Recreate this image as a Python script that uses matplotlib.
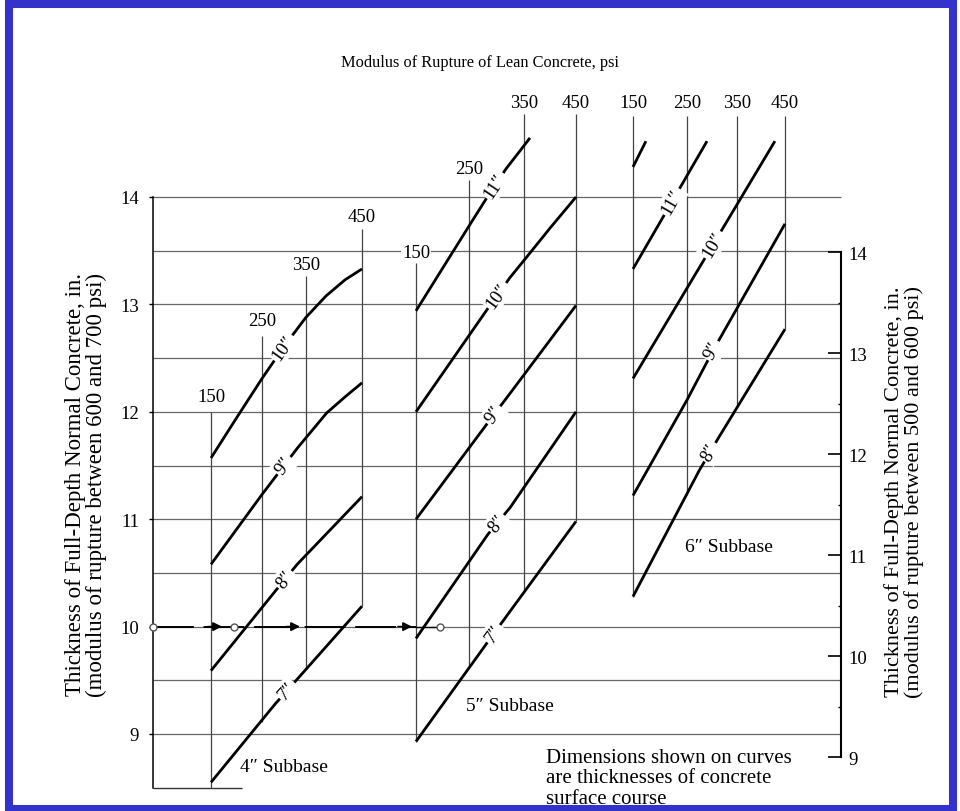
import numpy as np
import matplotlib
matplotlib.use('Agg')
import matplotlib.pyplot as plt
from matplotlib.patches import Rectangle

plt.rcParams['font.family'] = ['Liberation Serif', 'DejaVu Serif']

W, H = 960, 812

# ---------------- data ----------------
psi_values = [150, 250, 350, 450]
left_ticks = [9, 10, 11, 12, 13, 14]
right_ticks = [9, 10, 11, 12, 13, 14]
right_minor = [9.5, 10.5, 11.5, 12.5, 13.5]
grid_levels = [9.0, 9.5, 10.0, 10.5, 11.0, 11.5, 12.0, 12.5, 13.0, 13.5, 14.0]

# curves: surface thickness -> (lean concrete psi, full-depth thickness in.)
sub4_curves = {
    '10': ([150, 201, 250, 302, 350, 386, 420, 450],
           [11.57, 11.95, 12.31, 12.62, 12.88, 13.08, 13.23, 13.33]),
    '9':  ([150, 250, 330, 387, 420, 450], [10.58, 11.23, 11.66, 11.99, 12.14, 12.27]),
    '8':  ([150, 284, 330, 450], [9.59, 10.35, 10.58, 11.21]),
    '7':  ([150, 280, 330, 450], [8.55, 9.28, 9.51, 10.19]),
}
sub4_label_psi = {'10': 298, '9': 300, '8': 302, '7': 307}

sub5_curves = {
    '11': ([150, 250, 284.5, 317, 361.5], [12.94, 13.73, 14.01, 14.26, 14.55]),
    '10': ([150, 250, 288, 324.5, 350, 400, 450], [12.0, 12.71, 12.99, 13.25, 13.41, 13.71, 14.0]),
    '9':  ([150, 284.5, 320, 450], [11.0, 11.9, 12.14, 12.99]),
    '8':  ([150, 284.5, 325, 450], [9.89, 10.86, 11.11, 12.0]),
    '7':  ([150, 284.5, 320, 450], [8.93, 9.86, 10.11, 10.98]),
}
sub5_label_psi = {'11': 297, '10': 301, '9': 295, '8': 301, '7': 295}

sub6_curves = {
    '12': ([150, 174], [14.28, 14.52]),
    '11': ([150, 290], [13.33, 14.52]),
    '10': ([150, 429], [12.31, 14.52]),
    '9':  ([150, 250, 302, 450], [11.22, 12.11, 12.57, 13.75]),
    '8':  ([150, 274, 312, 450], [10.28, 11.45, 11.75, 12.77]),
}
sub6_label_psi = {'11': 222, '10': 302, '9': 302, '8': 296}

example_level = 10.0

# ---------------- layout ----------------
def py2in(py):
    return 14 - (py - 198) / 107.4

groups = [
    dict(xpos=[211, 262, 306, 362], curves=sub4_curves, lab=sub4_label_psi,
         top=[py2in(413), py2in(337), py2in(277), py2in(230)],
         laby=[py2in(398), py2in(322), py2in(265), py2in(218)], base=8.5,
         name='4\u2033 Subbase', name_xy=(284, 768)),
    dict(xpos=[416, 469, 524, 576], curves=sub5_curves, lab=sub5_label_psi,
         top=[py2in(264), py2in(181), py2in(115), py2in(115)],
         laby=[py2in(253), py2in(170), py2in(103), py2in(103)], base=None,
         name='5\u2033 Subbase', name_xy=(510, 707)),
    dict(xpos=[633, 687, 737, 785], curves=sub6_curves, lab=sub6_label_psi,
         top=[py2in(117)] * 4,
         laby=[py2in(103)] * 4, base=None,
         name='6\u2033 Subbase', name_xy=(729, 547)),
]

fig = plt.figure(figsize=(W / 100, H / 100), dpi=100)
ax = fig.add_axes([0, 0, 1, 1])
ax.set_xlim(0, W)
ax.set_ylim(py2in(H), py2in(0))
for s in ['top', 'right', 'bottom']:
    ax.spines[s].set_visible(False)
ax.spines['left'].set_position(('data', 153))
ax.spines['left'].set_bounds(8.5, 14)
ax.spines['left'].set_linewidth(1.1)
ax.set_xticks([])
ax.set_yticks(left_ticks)
ax.set_yticklabels([str(t) for t in left_ticks])
ax.tick_params(axis='y', direction='out', length=3, width=1, pad=7, labelsize=13.5)

ax2 = ax.twinx()
ax2.set_ylim(14 - (H - 253) / 101.0, 14 + 253 / 101.0)
for s in ['top', 'left', 'bottom']:
    ax2.spines[s].set_visible(False)
ax2.spines['right'].set_position(('data', 841))
ax2.spines['right'].set_bounds(9, 14)
ax2.spines['right'].set_linewidth(1.5)
ax2.set_yticks(right_ticks)
ax2.set_yticklabels([str(t) for t in right_ticks])
ax2.set_yticks(right_minor, minor=True)
ax2.tick_params(axis='y', which='major', direction='in', length=9.5, width=1.2, pad=5, labelsize=13.5)
ax2.tick_params(axis='y', which='minor', direction='in', length=2.5, width=1.0)

# horizontal grid
ax.hlines(grid_levels, 153, 841, color='#666666', lw=0.9, zorder=1)
ax.hlines(8.5, 153, 242, color='#333333', lw=1.0, zorder=1)

lab_box = dict(boxstyle='square,pad=0.12', fc='white', ec='none')

for g in groups:
    gx = g['xpos']
    # vertical psi lines
    for i, p in enumerate(psi_values):
        vals = []
        for cps, cv in g['curves'].values():
            if cps[0] <= p <= cps[-1]:
                vals.append(np.interp(p, cps, cv))
        bottom = min(vals) if vals else g['top'][i]
        if g['base'] is not None and i == 0:
            bottom = g['base']
        ax.vlines(gx[i], bottom, g['top'][i], color='#444444', lw=0.9, zorder=2)
        ax.text(gx[i], g['laby'][i], str(p), ha='center', va='center', fontsize=13.5,
                bbox=dict(boxstyle='square,pad=0.05', fc='white', ec='none'), zorder=4)
    # curves
    for key, (cps, cv) in g['curves'].items():
        xs = np.interp(cps, psi_values, gx)
        ax.plot(xs, cv, color='black', lw=2.0, solid_capstyle='butt', zorder=3)
        if key in g['lab']:
            xl = np.interp(g['lab'][key], psi_values, gx)
            yl = np.interp(xl, xs, cv)
            p1 = ax.transData.transform((xl - 8, np.interp(xl - 8, xs, cv)))
            p2 = ax.transData.transform((xl + 8, np.interp(xl + 8, xs, cv)))
            ang = np.degrees(np.arctan2(p2[1] - p1[1], p2[0] - p1[0]))
            ax.text(xl, yl, key + '\u2033', rotation=ang, rotation_mode='anchor',
                    ha='center', va='center', fontsize=13.5, bbox=lab_box, zorder=5)
    ax.text(g['name_xy'][0], py2in(g['name_xy'][1]), g['name'], ha='center', va='center',
            fontsize=14, zorder=5)

# example path at 10 in.
ax.plot([153, 416], [example_level] * 2, color='black', lw=1.4, dashes=(21, 5), zorder=3)
ax.plot([416, 440], [example_level] * 2, color='black', lw=1.0, zorder=3)
for xa in [222, 300, 412]:
    ax.annotate('', xy=(xa, example_level), xytext=(xa - 14, example_level),
                arrowprops=dict(arrowstyle='-|>', color='black', lw=1.2, mutation_scale=13,
                                shrinkA=0, shrinkB=0), zorder=4)
ax.plot([153, 234, 440], [example_level] * 3, 'o', ms=5, mfc='white', mec='#555555',
        mew=1.0, zorder=6)

# texts
fig.text(480 / W, 1 - 63 / H, 'Modulus of Rupture of Lean Concrete, psi', ha='center',
         va='center', fontsize=11.8)
fig.text(546 / W, 1 - 749 / H, 'Dimensions shown on curves\nare thicknesses of concrete\nsurface course',
         ha='left', va='top', fontsize=15, linespacing=1.1)
fig.text(86 / W, 1 - 485 / H,
         'Thickness of Full-Depth Normal Concrete, in.\n(modulus of rupture between 600 and 700 psi)',
         rotation=90, ha='center', va='center', fontsize=16.5, linespacing=0.95,
         multialignment='center')
fig.text(904 / W, 1 - 492 / H,
         'Thickness of Full-Depth Normal Concrete, in.\n(modulus of rupture between 500 and 600 psi)',
         rotation=90, ha='center', va='center', fontsize=16, linespacing=0.95,
         multialignment='center')

fig.add_artist(Rectangle((9 / W, 1 - 810 / H), 944 / W, 805 / H, transform=fig.transFigure,
                         fill=False, ec='#3333CC', lw=5.8))

fig.savefig('out.png', dpi=100)
